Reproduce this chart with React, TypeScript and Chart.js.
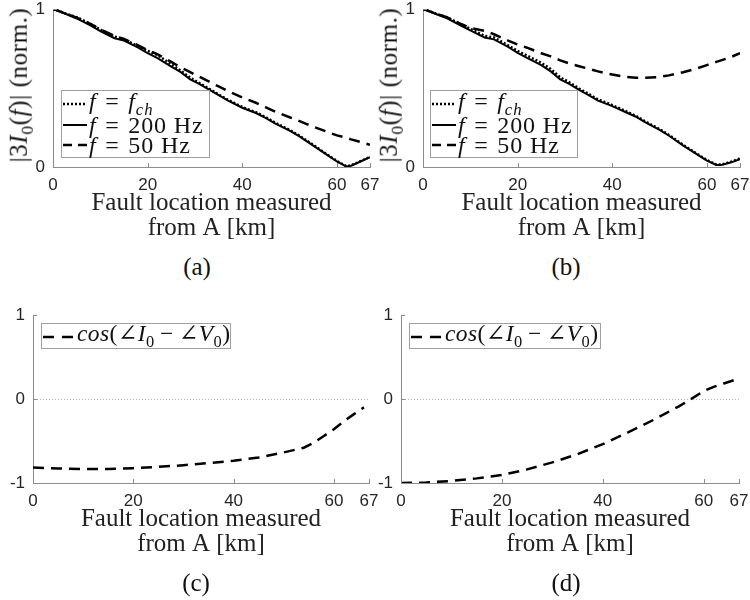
import React, { useEffect, useRef } from "react";
import { Chart, registerables } from "chart.js";

Chart.register(...registerables);

// ---------- data ----------
const xTickValues = [0, 20, 40, 60, 67];
const topYTicks = [0, 1];
const bottomYTicks = [-1, 0, 1];
const xTitleLines = ["Fault location measured", "from A [km]"];

// panel (a) / (b) distance grid (km)
const distTop = [0, 3, 5, 8, 10, 13, 15, 18, 20, 22, 25, 27, 29, 31, 33, 35, 37, 40, 43, 45, 47, 50, 52, 55, 58, 60, 62, 63, 65, 67];

// (a)
const aFch = [1.0, 0.968, 0.948, 0.905, 0.87, 0.825, 0.808, 0.765, 0.735, 0.71, 0.65, 0.61, 0.565, 0.53, 0.495, 0.46, 0.425, 0.38, 0.345, 0.315, 0.28, 0.235, 0.2, 0.14, 0.078, 0.038, 0.005, 0.01, 0.037, 0.064];
const a200 = [1.0, 0.965, 0.94, 0.895, 0.86, 0.815, 0.8, 0.755, 0.72, 0.69, 0.635, 0.6, 0.555, 0.525, 0.49, 0.455, 0.42, 0.375, 0.34, 0.31, 0.275, 0.23, 0.195, 0.135, 0.075, 0.035, 0.003, 0.008, 0.035, 0.062];
const a50 = [1.0, 0.968, 0.945, 0.905, 0.87, 0.83, 0.81, 0.77, 0.74, 0.715, 0.665, 0.63, 0.6, 0.57, 0.54, 0.51, 0.48, 0.44, 0.405, 0.378, 0.35, 0.315, 0.292, 0.255, 0.222, 0.2, 0.185, 0.175, 0.158, 0.14];

// (b)
const bFch = [1.0, 0.968, 0.948, 0.905, 0.875, 0.83, 0.82, 0.77, 0.735, 0.705, 0.66, 0.62, 0.568, 0.535, 0.497, 0.463, 0.428, 0.392, 0.352, 0.323, 0.288, 0.24, 0.203, 0.14, 0.082, 0.044, 0.016, 0.015, 0.032, 0.055];
const b200 = [1.0, 0.965, 0.943, 0.895, 0.865, 0.82, 0.808, 0.76, 0.722, 0.69, 0.645, 0.605, 0.555, 0.525, 0.488, 0.455, 0.42, 0.385, 0.345, 0.318, 0.283, 0.235, 0.198, 0.135, 0.078, 0.04, 0.013, 0.012, 0.028, 0.05];
const b50 = [1.0, 0.968, 0.948, 0.905, 0.88, 0.862, 0.84, 0.8, 0.775, 0.755, 0.72, 0.7, 0.675, 0.655, 0.638, 0.622, 0.605, 0.585, 0.57, 0.565, 0.565, 0.57, 0.58, 0.6, 0.625, 0.645, 0.665, 0.675, 0.695, 0.72];

// (c)
const distC = [0, 5, 10, 15, 20, 25, 30, 35, 40, 45, 50, 54, 56, 58, 60, 62, 64, 66];
const cCos = [-0.815, -0.827, -0.833, -0.833, -0.823, -0.808, -0.788, -0.763, -0.736, -0.696, -0.636, -0.58, -0.52, -0.44, -0.36, -0.265, -0.18, -0.1];

// (d)
const distD = [0, 5, 10, 15, 20, 25, 30, 35, 40, 45, 50, 55, 57, 60, 62, 64, 66];
const dCos = [-1.0, -0.995, -0.975, -0.945, -0.905, -0.838, -0.755, -0.656, -0.537, -0.398, -0.25, -0.09, -0.02, 0.095, 0.145, 0.185, 0.225];

// ---------- styles ----------
const SERIF = '"Liberation Serif", "DejaVu Serif", serif';
const SANS = '"Liberation Sans", Arial, sans-serif';
const AXIS = "#8c8c8c";
const TICKTXT = "#262626";

const pts = (xs: number[], ys: number[]) => xs.map((x, i) => ({ x, y: ys[i] }));

const DOTTED = [2, 2];
const DASHED = [11, 7];

const inwardTicks = {
  id: "inwardTicks",
  afterDraw(chart: any) {
    const { ctx, chartArea, scales } = chart;
    ctx.save();
    ctx.strokeStyle = AXIS;
    ctx.lineWidth = 1;
    scales.x.ticks.forEach((t: any) => {
      const px = Math.round(scales.x.getPixelForValue(t.value)) + 0.5;
      ctx.beginPath();
      ctx.moveTo(px, chartArea.bottom);
      ctx.lineTo(px, chartArea.bottom - 4);
      ctx.stroke();
    });
    scales.y.ticks.forEach((t: any) => {
      const py = Math.round(scales.y.getPixelForValue(t.value)) + 0.5;
      ctx.beginPath();
      ctx.moveTo(chartArea.left, py);
      ctx.lineTo(chartArea.left + 4, py);
      ctx.stroke();
    });
    ctx.restore();
  },
};

type PanelProps = {
  left: number;
  top: number;
  width: number;
  height: number;
  yAxisWidth: number;
  xAxisHeight: number;
  pad: { left: number; right: number; top: number; bottom: number };
  yMin: number;
  yMax: number;
  yTicks: number[];
  zeroLine: boolean;
  datasets: any[];
};

function Panel(p: PanelProps) {
  const ref = useRef<HTMLCanvasElement>(null);
  useEffect(() => {
    const chart = new Chart(ref.current as HTMLCanvasElement, {
      type: "line",
      data: { datasets: p.datasets },
      options: {
        animation: false,
        responsive: false,
        devicePixelRatio: 1,
        layout: { padding: p.pad },
        elements: { point: { radius: 0 }, line: { tension: 0 } },
        plugins: { legend: { display: false }, tooltip: { enabled: false } },
        scales: {
          x: {
            type: "linear",
            min: 0,
            max: 67,
            afterBuildTicks: (s: any) => {
              s.ticks = xTickValues.map((v) => ({ value: v }));
            },
            afterFit: (s: any) => {
              s.height = p.xAxisHeight;
              s.paddingLeft = 0;
              s.paddingRight = 0;
              s.paddingTop = 0;
              s.paddingBottom = 0;
            },
            grid: { display: false, drawTicks: false },
            border: { display: true, color: AXIS, width: 1 },
            ticks: {
              autoSkip: false,
              maxRotation: 0,
              padding: 8,
              color: TICKTXT,
              font: { family: SANS, size: 17, lineHeight: 1.2 },
              callback: (v: any) => String(v),
            },
            title: {
              display: true,
              text: xTitleLines,
              color: "#222",
              padding: 0,
              font: { family: SERIF, size: 25, lineHeight: 1.0 },
            },
          },
          y: {
            type: "linear",
            min: p.yMin,
            max: p.yMax,
            afterBuildTicks: (s: any) => {
              s.ticks = p.yTicks.map((v) => ({ value: v }));
            },
            afterFit: (s: any) => {
              s.width = p.yAxisWidth;
              s.paddingLeft = 0;
              s.paddingRight = 0;
              s.paddingTop = 0;
              s.paddingBottom = 0;
            },
            grid: {
              display: p.zeroLine,
              drawTicks: false,
              lineWidth: 1,
              color: (c: any) => (c.tick && c.tick.value === 0 ? "#b4b4b4" : "rgba(0,0,0,0)"),
            },
            border: { display: true, color: AXIS, width: 1, dash: [1, 2] },
            ticks: {
              padding: 8,
              color: TICKTXT,
              font: { family: SANS, size: 17, lineHeight: 1.2 },
              callback: (v: any) => String(v),
            },
          },
        },
      },
      plugins: [inwardTicks],
    } as any);
    return () => chart.destroy();
  }, []);
  return (
    <canvas
      ref={ref}
      width={p.width}
      height={p.height}
      style={{ position: "absolute", left: p.left, top: p.top, width: p.width, height: p.height }}
    />
  );
}

function Sample({ w, dash, lw }: { w: number; dash: string; lw: number }) {
  return (
    <svg width={w} height={12} style={{ display: "block", flex: "none" }}>
      <line x1={0} y1={6} x2={w} y2={6} stroke="#000" strokeWidth={lw} strokeDasharray={dash} />
    </svg>
  );
}

type LegendRow = { dash: string; lw: number; label: React.ReactNode };

function Legend(props: {
  left: number;
  top: number;
  width: number;
  height: number;
  padTop: number;
  rowH: number;
  sampleW: number;
  fontSize: number;
  spacing: number;
  gap: number;
  rows: LegendRow[];
}) {
  return (
    <div
      style={{
        position: "absolute",
        left: props.left,
        top: props.top,
        width: props.width,
        height: props.height,
        boxSizing: "border-box",
        border: "1px solid #a0a0a0",
        background: "#fff",
        paddingTop: props.padTop,
        paddingLeft: 1,
        fontFamily: SERIF,
        fontSize: props.fontSize,
        color: "#111",
        overflow: "visible",
      }}
    >
      {props.rows.map((r, i) => (
        <div key={i} style={{ display: "flex", alignItems: "center", height: props.rowH, whiteSpace: "nowrap" }}>
          <Sample w={props.sampleW} dash={r.dash} lw={r.lw} />
          <span style={{ marginLeft: props.gap, lineHeight: 1, letterSpacing: props.spacing }}>{r.label}</span>
        </div>
      ))}
    </div>
  );
}

const SUB = { fontSize: "70%" };
const OP = { margin: "0 0.36em" };

function YTitle({ cx, cy }: { cx: number; cy: number }) {
  return (
    <div
      style={{
        position: "absolute",
        left: cx,
        top: cy,
        transform: "translate(-50%, -50%) rotate(-90deg)",
        whiteSpace: "nowrap",
        fontFamily: SERIF,
        fontSize: 25,
        letterSpacing: 0.6,
        lineHeight: 1,
        color: "#111",
      }}
    >
      |3<i>I</i>
      <sub style={SUB}>0</sub>(<i>f</i>)| (norm.)
    </div>
  );
}

function Caption({ cx, cy, text }: { cx: number; cy: number; text: string }) {
  return (
    <div
      style={{
        position: "absolute",
        left: cx,
        top: cy,
        transform: "translate(-50%, -50%)",
        fontFamily: SERIF,
        fontSize: 25,
        lineHeight: 1,
        color: "#111",
      }}
    >
      {text}
    </div>
  );
}

const topRows: LegendRow[] = [
  {
    dash: "2 2",
    lw: 2.5,
    label: (
      <>
        <i>f</i>
        <span style={OP}>=</span>
        <i>f</i>
        <sub style={SUB}>
          <i>ch</i>
        </sub>
      </>
    ),
  },
  {
    dash: "",
    lw: 2,
    label: (
      <>
        <i>f</i>
        <span style={OP}>=</span>200 Hz
      </>
    ),
  },
  {
    dash: "9 6",
    lw: 2.5,
    label: (
      <>
        <i>f</i>
        <span style={OP}>=</span>50 Hz
      </>
    ),
  },
];

const cosRow: LegendRow[] = [
  {
    dash: "11 8",
    lw: 2.5,
    label: (
      <>
        <i>cos</i>(∠<i>I</i>
        <sub style={SUB}>0</sub>
        <span style={{ margin: "0 0.22em" }}>−</span>∠<i>V</i>
        <sub style={SUB}>0</sub>)
      </>
    ),
  },
];

const mk = (label: string, xs: number[], ys: number[], dash: number[], w: number) => ({
  label,
  data: pts(xs, ys),
  borderColor: "#000",
  backgroundColor: "#000",
  borderWidth: w,
  borderDash: dash,
  fill: false,
});

export default function App() {
  return (
    <div
      style={{
        position: "absolute",
        left: 0,
        top: 0,
        width: 750,
        height: 600,
        overflow: "hidden",
        background: "#fff",
      }}
    >
      <Panel
        left={0}
        top={0}
        width={395}
        height={250}
        yAxisWidth={53}
        xAxisHeight={74}
        pad={{ left: 0, right: 25, top: 9, bottom: 9 }}
        yMin={0}
        yMax={1}
        yTicks={topYTicks}
        zeroLine={false}
        datasets={[
          mk("f = f_ch", distTop, aFch, DOTTED, 2.5),
          mk("f = 200 Hz", distTop, a200, [], 2),
          mk("f = 50 Hz", distTop, a50, DASHED, 2.5),
        ]}
      />
      <Panel
        left={375}
        top={0}
        width={385}
        height={250}
        yAxisWidth={48}
        xAxisHeight={74}
        pad={{ left: 0, right: 20, top: 9, bottom: 9 }}
        yMin={0}
        yMax={1}
        yTicks={topYTicks}
        zeroLine={false}
        datasets={[
          mk("f = f_ch", distTop, bFch, DOTTED, 2.5),
          mk("f = 200 Hz", distTop, b200, [], 2),
          mk("f = 50 Hz", distTop, b50, DASHED, 2.5),
        ]}
      />
      <Panel
        left={0}
        top={300}
        width={395}
        height={270}
        yAxisWidth={33}
        xAxisHeight={74}
        pad={{ left: 0, right: 26, top: 15, bottom: 13 }}
        yMin={-1}
        yMax={1}
        yTicks={bottomYTicks}
        zeroLine={true}
        datasets={[mk("cos(∠I0 − ∠V0)", distC, cCos, DASHED, 2.5)]}
      />
      <Panel
        left={375}
        top={300}
        width={385}
        height={270}
        yAxisWidth={26}
        xAxisHeight={74}
        pad={{ left: 0, right: 21, top: 15, bottom: 13 }}
        yMin={-1}
        yMax={1}
        yTicks={bottomYTicks}
        zeroLine={true}
        datasets={[mk("cos(∠I0 − ∠V0)", distD, dCos, DASHED, 2.5)]}
      />

      <YTitle cx={21} cy={85} />
      <YTitle cx={391} cy={85} />

      <Legend left={61} top={90} width={149} height={68} padTop={3} rowH={20.5} sampleW={24} fontSize={24} spacing={0.9} gap={2} rows={topRows} />
      <Legend left={430} top={90} width={148} height={68} padTop={3} rowH={20.5} sampleW={24} fontSize={24} spacing={0.9} gap={2} rows={topRows} />
      <Legend left={41} top={323} width={190} height={26} padTop={1} rowH={23} sampleW={33} fontSize={23.5} spacing={0.4} gap={1} rows={cosRow} />
      <Legend left={409} top={323} width={192} height={26} padTop={1} rowH={23} sampleW={33} fontSize={23.5} spacing={0.4} gap={1} rows={cosRow} />

      <Caption cx={197} cy={266} text="(a)" />
      <Caption cx={566} cy={266} text="(b)" />
      <Caption cx={196} cy={582} text="(c)" />
      <Caption cx={566} cy={582} text="(d)" />
    </div>
  );
}
